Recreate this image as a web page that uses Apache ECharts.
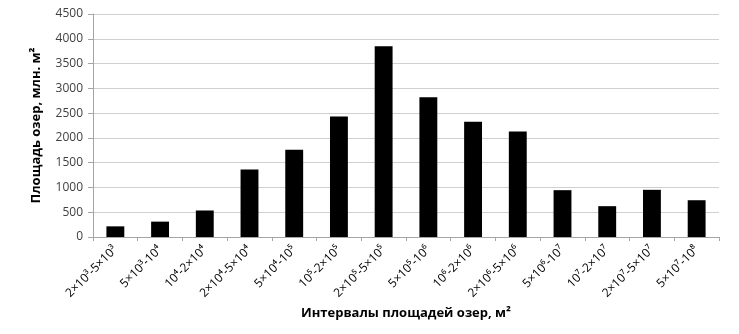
<!DOCTYPE html>
<html><head><meta charset="utf-8">
<script src="https://cdn.jsdelivr.net/npm/echarts@6/dist/echarts.min.js"></script>
<style>html,body{margin:0;padding:0;background:#fff}#c{width:739px;height:334px}</style>
</head><body><div id="c"></div>
<script>
const categories = ['2×10³-5×10³','5×10³-10⁴','10⁴-2×10⁴','2×10⁴-5×10⁴','5×10⁴-10⁵','10⁵-2×10⁵','2×10⁵-5×10⁵','5×10⁵-10⁶','10⁶-2×10⁶','2×10⁶-5×10⁶','5×10⁶-10⁷','10⁷-2×10⁷','2×10⁷-5×10⁷','5×10⁷-10⁸'];
const values = [215, 310, 535, 1362, 1760, 2430, 3848, 2820, 2328, 2130, 945, 622, 952, 742];
const yTicks = [0, 500, 1000, 1500, 2000, 2500, 3000, 3500, 4000, 4500];
const xName = 'Интервалы площадей озер, м²';
const yName = 'Площадь озер, млн. м²';

const chart = echarts.init(document.getElementById('c'), null, {renderer: 'canvas'});
const font = 'Open Sans, Noto Sans, sans-serif';
chart.setOption({
  animation: false,
  grid: {left: 93, right: 20, top: 14, bottom: 97, containLabel: false},
  xAxis: {
    type: 'category', data: categories,
    name: xName, nameLocation: 'middle', nameGap: 70,
    nameTextStyle: {fontFamily: font, fontWeight: 'bold', fontSize: 13, color: '#000'},
    axisLine: {lineStyle: {color: '#a6a6a6'}},
    axisTick: {show: true, length: 4, lineStyle: {color: '#a6a6a6'}},
    axisLabel: {rotate: 45, interval: 0, fontFamily: font, fontSize: 12, color: '#000', margin: 11}
  },
  yAxis: {
    type: 'value', min: yTicks[0], max: yTicks[yTicks.length - 1], interval: 500,
    name: yName, nameLocation: 'middle', nameGap: 50,
    nameTextStyle: {fontFamily: font, fontWeight: 'bold', fontSize: 13, color: '#000'},
    axisLine: {show: true, lineStyle: {color: '#a6a6a6'}},
    axisTick: {show: true, length: 5, lineStyle: {color: '#a6a6a6'}},
    axisLabel: {fontFamily: font, fontSize: 12, color: '#404040', margin: 10, formatter: v => String(v)},
    splitLine: {lineStyle: {color: '#d0d0d0'}}
  },
  series: [{
    type: 'bar', data: values, barWidth: '40%',
    itemStyle: {color: '#000'}
  }]
});
</script></body></html>
